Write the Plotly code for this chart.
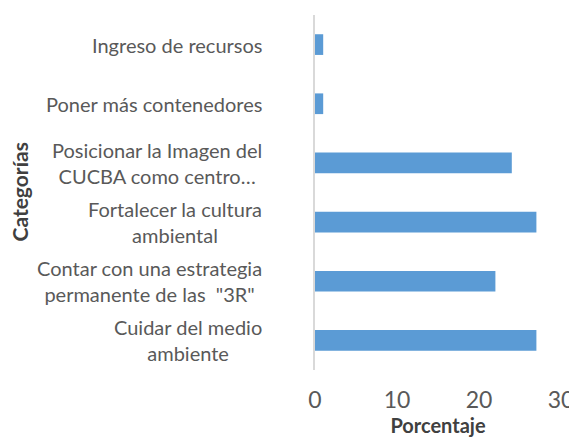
import plotly.graph_objects as go

# Data (bottom to top)
categories = [
    "Cuidar del medio<br>ambiente",
    "Contar con una estrategia<br>permanente de las\u00a0 \"3R\"",
    "Fortalecer la cultura<br>ambiental",
    "Posicionar la Imagen del<br>CUCBA como centro…",
    "Poner más contenedores",
    "Ingreso de recursos",
]
values = [27, 22, 27, 24, 1, 1]
x_ticks = [0, 10, 20, 30]
x_title = "Porcentaje"
y_title = "Categorías"

FONT = "Lato"
TXT = "#595959"
# page body has an 8px margin, so the figure is drawn 8px right/down
OFF = 8
W, H = 577 - OFF, 445 - OFF
L, R, T, B = 315 - OFF, 16, 15 - OFF, 75
PW = W - L - R

fig = go.Figure()
fig.add_trace(go.Bar(
    x=values,
    y=categories,
    orientation="h",
    width=0.35,
    marker=dict(color="#5B9BD5", line=dict(width=0)),
    hoverinfo="x+y",
))

annotations = []
for cat in categories:
    annotations.append(dict(
        x=((264 - OFF) - L) / PW, xref="paper", y=cat, yref="y",
        text=cat, showarrow=False, xanchor="right", yanchor="middle",
        align="center", font=dict(family=FONT, size=20, color=TXT),
    ))

annotations.append(dict(
    x=((19 - OFF) - L) / PW, xref="paper", y=0.5, yref="paper",
    text="<b>" + y_title + "</b>", showarrow=False, textangle=-90,
    xanchor="center", yanchor="middle",
    font=dict(family=FONT, size=21, color="#404040"),
))

fig.update_layout(
    width=W, height=H,
    margin=dict(l=L, r=R, t=T, b=B),
    paper_bgcolor="white", plot_bgcolor="white",
    showlegend=False,
    font=dict(family=FONT, color=TXT),
    annotations=annotations,
    xaxis=dict(
        range=[0, 30], tickvals=x_ticks, showgrid=False, zeroline=False,
        showline=False, ticks="", tickfont=dict(family=FONT, size=23, color=TXT),
        ticklabelstandoff=14, automargin=False,
        title=dict(text="<b>" + x_title + "</b>", font=dict(family=FONT, size=20, color="#404040"), standoff=3),
    ),
    yaxis=dict(
        type="category", categoryorder="array", categoryarray=categories,
        showticklabels=False, showgrid=False, zeroline=False, automargin=False,
        showline=True, linecolor="#D9D9D9", linewidth=1.5, ticks="",
        range=[-0.5, 5.5],
    ),
)

fig.write_html("out.html")
